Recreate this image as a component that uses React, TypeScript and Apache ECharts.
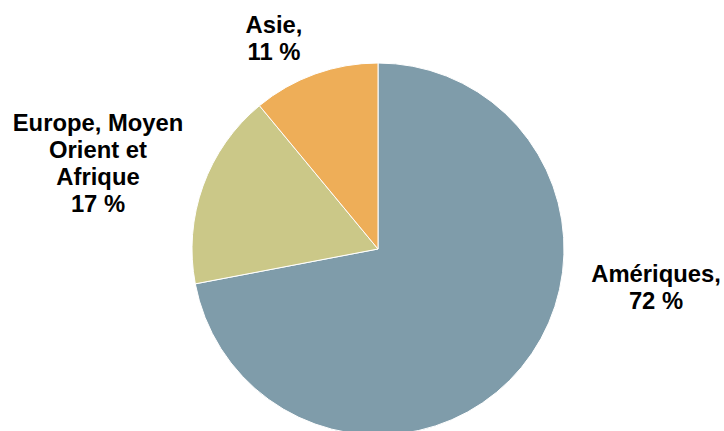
import React, { useEffect, useRef } from "react";
import * as echarts from "echarts";

const categories = ["Amériques", "Europe, Moyen\nOrient et\nAfrique", "Asie"];
const values = [72, 17, 11];
const labelTexts = ["Amériques,\n72 %", "Europe, Moyen\nOrient et\nAfrique\n17 %", "Asie,\n11 %"];
const colors = ["#7F9CAA", "#CBC888", "#EEAE58"];
const labelPos = [
  [656, 287],
  [98, 163],
  [274, 38],
];

export default function App() {
  const ref = useRef<HTMLDivElement>(null);
  useEffect(() => {
    if (!ref.current) return;
    const chart = echarts.init(ref.current, undefined, { renderer: "svg" });
    chart.setOption({
      animation: false,
      backgroundColor: "#ffffff",
      series: [
        {
          type: "pie",
          center: [378, 249],
          radius: 186,
          startAngle: 90,
          clockwise: true,
          avoidLabelOverlap: false,
          itemStyle: { borderColor: "#ffffff", borderWidth: 1 },
          label: {
            show: true,
            position: "outside",
            formatter: (p: any) => labelTexts[p.dataIndex],
            color: "#000000",
            fontFamily: "'Liberation Sans', Arial, sans-serif",
            fontWeight: "bold",
            fontSize: 23.8,
            lineHeight: 27,
            align: "center",
          },
          labelLine: { show: false },
          labelLayout: (p: any) => ({
            x: labelPos[p.dataIndex][0],
            y: labelPos[p.dataIndex][1],
            align: "center",
            verticalAlign: "middle",
          }),
          data: categories.map((c, i) => ({
            name: c,
            value: values[i],
            itemStyle: { color: colors[i] },
          })),
        },
      ],
    });
    return () => chart.dispose();
  }, []);
  return (
    <div
      ref={ref}
      style={{ position: "fixed", left: 0, top: 0, width: 724, height: 431 }}
    />
  );
}
